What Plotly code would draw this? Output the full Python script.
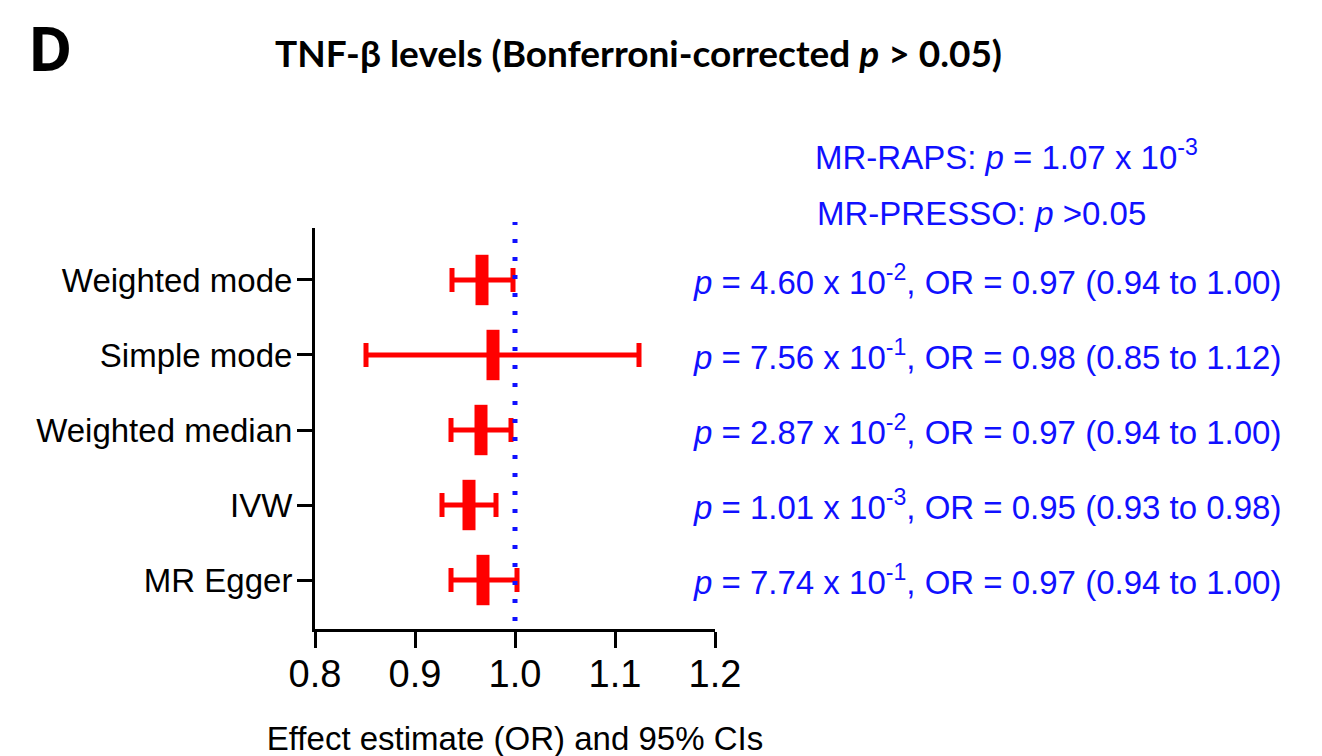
import plotly.graph_objects as go

# ---- data (top to bottom as displayed) ----
methods = ["Weighted mode", "Simple mode", "Weighted median", "IVW", "MR Egger"]
or_est = [0.967, 0.978, 0.966, 0.954, 0.968]
ci_low = [0.937, 0.851, 0.936, 0.927, 0.936]
ci_high = [0.998, 1.124, 0.996, 0.981, 1.002]
p_mant = ["4.60", "7.56", "2.87", "1.01", "7.74"]
p_exp = ["-2", "-1", "-2", "-3", "-1"]
or_txt = ["0.97", "0.98", "0.97", "0.95", "0.97"]
ci_txt = ["0.94 to 1.00", "0.85 to 1.12", "0.94 to 1.00", "0.93 to 0.98", "0.94 to 1.00"]
x_ticks = [0.8, 0.9, 1.0, 1.1, 1.2]
x_tick_labels = ["0.8", "0.9", "1.0", "1.1", "1.2"]
NULL_OR = 1.0
raps_p_mant, raps_p_exp = "1.07", "-3"

RED = "#ff0000"
BLUE = "#1010ff"
FONT = "Liberation Sans, Arial, sans-serif"

OFF = 8  # page body margin
W, H = 1322, 756
# plot area in screen pixels
SX0, SX1, SY0, SY1 = 315, 715, 228, 629
L = SX0 - OFF
T = SY0 - OFF
R = W - (SX1 - OFF)
B = H - (SY1 - OFF)
plot_w = SX1 - SX0
plot_h = SY1 - SY0

def px_x(px):
    return (px - SX0) / plot_w

def px_y(py):
    return (SY1 - py) / plot_h

err_plus = [h - e for h, e in zip(ci_high, or_est)]
err_minus = [e - l for e, l in zip(or_est, ci_low)]

fig = go.Figure()
fig.add_trace(go.Scatter(
    x=or_est, y=methods, mode="markers",
    marker=dict(symbol="line-ns", size=36, color=RED,
                line=dict(color=RED, width=13)),
    error_x=dict(type="data", symmetric=False, array=err_plus, arrayminus=err_minus,
                 color=RED, thickness=5, width=12),
    showlegend=False, hoverinfo="skip",
))

fig.add_shape(type="line", xref="x", yref="paper",
              x0=NULL_OR, x1=NULL_OR, y0=px_y(621), y1=px_y(222),
              line=dict(color=BLUE, width=5, dash="4px,14px"), layer="above")

annotations = []
for m, pm, pe, o, c in zip(methods, p_mant, p_exp, or_txt, ci_txt):
    annotations.append(dict(
        xref="paper", yref="y", x=px_x(1283), y=m, xanchor="right", yanchor="middle",
        text=f"<i>p</i> = {pm} x 10<sup>{pe}</sup>, OR = {o} ({c})",
        showarrow=False, font=dict(family=FONT, size=33, color=BLUE)))

annotations.append(dict(
    xref="paper", yref="paper", x=px_x(813), y=px_y(155), xanchor="left", yanchor="middle",
    text=f"MR-RAPS: <i>p</i> = {raps_p_mant} x 10<sup>{raps_p_exp}</sup>",
    showarrow=False, font=dict(family=FONT, size=33, color=BLUE)))
annotations.append(dict(
    xref="paper", yref="paper", x=px_x(815), y=px_y(214), xanchor="left", yanchor="middle",
    text="MR-PRESSO: <i>p</i> &gt;0.05",
    showarrow=False, font=dict(family=FONT, size=33, color=BLUE)))

annotations.append(dict(
    xref="paper", yref="paper", x=px_x(26), y=px_y(48), xanchor="left", yanchor="middle",
    text="<b>D</b>", showarrow=False,
    font=dict(family="Open Sans, Arial, sans-serif", size=60, color="black")))
annotations.append(dict(
    xref="paper", yref="paper", x=px_x(638), y=px_y(52), xanchor="center", yanchor="middle",
    text="<b>TNF-β levels (Bonferroni-corrected <i>p</i> &gt; 0.05)</b>", showarrow=False,
    font=dict(family="Lato, Open Sans, sans-serif", size=37, color="black")))

fig.update_layout(
    width=W, height=H,
    margin=dict(l=L, r=R, t=T, b=B, pad=0),
    paper_bgcolor="white", plot_bgcolor="white",
    annotations=annotations,
    xaxis=dict(range=[0.8, 1.2], tickvals=x_ticks, ticktext=x_tick_labels,
               showgrid=False, zeroline=False, showline=True, linecolor="black", linewidth=3,
               ticks="outside", ticklen=16, tickwidth=3, tickcolor="black",
               ticklabelstandoff=-7,
               tickfont=dict(family=FONT, size=38, color="black"),
               title=dict(text="Effect estimate (OR) and 95% CIs", standoff=34,
                          font=dict(family=FONT, size=33, color="black"))),
    yaxis=dict(type="category", categoryorder="array", categoryarray=list(reversed(methods)),
               range=[-0.653, 4.693],
               showgrid=False, zeroline=False, showline=True, linecolor="black", linewidth=3,
               ticks="outside", ticklen=15, tickwidth=3, tickcolor="black",
               ticklabelstandoff=-2,
               tickfont=dict(family=FONT, size=33, color="black")),
)

fig.write_html("out.html")
